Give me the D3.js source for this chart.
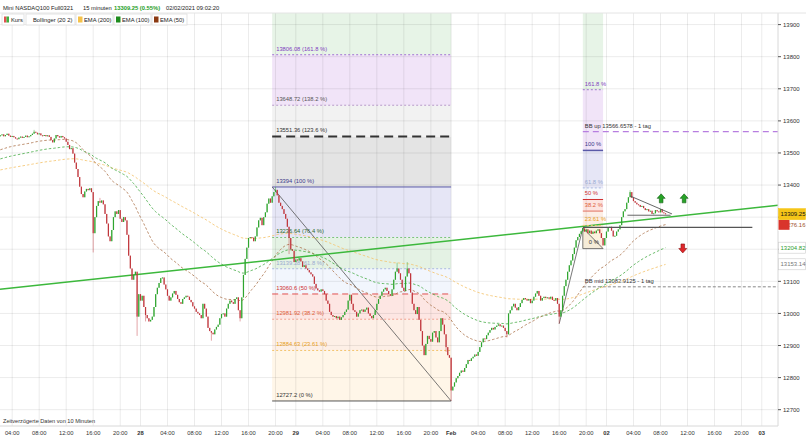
<!DOCTYPE html>
<html><head><meta charset="utf-8">
<script src="https://cdn.jsdelivr.net/npm/d3@7"></script>
<style>body{margin:0;background:#fff;} svg{display:block;font-family:"Liberation Sans",Arial,sans-serif;}</style>
</head><body><svg id="c" width="806" height="438"></svg>
<script>
// ---------- DATA ----------
const startHour = 2.25;      // first bar: Jan 27, 02:15 (trading hours, 23h per day)
const barHours = 0.25;       // 15-minute bars
const closes = [13555,13558,13552,13556,13560,13554,13550,13553,13549,13545,
13543,13548,13551,13547,13550,13554,13549,13552,13556,13560,
13566,13563,13558,13561,13555,13553,13556,13552,13555,13550,
13540,13533,13545,13556,13552,13548,13553,13549,13545,13535,
13525,13512,13515,13498,13470,13450,13425,13395,13372,13362,
13380,13388,13384,13390,13378,13250,13300,13335,13350,13345,
13352,13340,13310,13280,13240,13225,13260,13300,13318,13310,
13322,13295,13285,13300,13290,13245,13180,13140,13105,13120,
13130,12990,13060,13040,13055,13020,12995,12985,12975,12980,
12990,13020,13060,13080,13095,13110,13112,13090,13075,13055,
13040,13050,13062,13070,13058,13045,13035,13030,13045,13050,
13055,13052,13042,13035,13022,13015,13005,13000,12995,12985,
13030,13015,12990,12955,12945,12940,12935,12950,12958,12965,
12985,12998,13000,12990,13015,13030,13040,13035,13030,13045,
13050,13010,12985,13050,13120,13170,13205,13235,13238,13236,
13225,13240,13268,13290,13298,13275,13300,13315,13342,13358,
13345,13365,13378,13385,13368,13345,13335,13325,13310,13295,
13270,13235,13200,13195,13160,13168,13165,13172,13162,13145,
13150,13140,13135,13128,13122,13115,13092,13078,13072,13068,
13075,13070,13060,13040,13030,13005,12995,12990,12992,12985,
12990,12980,12988,12995,13005,13012,13040,13058,13030,13010,
13005,12990,13000,13010,13012,13005,13012,13018,13000,12992,
12985,12995,13010,13030,13045,13055,13068,13075,13080,13070,
13060,13055,13075,13105,13130,13140,13125,13105,13080,13070,
13115,13140,13125,13065,13030,13010,12998,13020,12980,12945,
12900,12870,12905,12930,12920,12912,12940,12945,12925,12910,
12945,12985,12965,12935,12895,12870,12862,12760,12772,12785,
12798,12805,12815,12822,12818,12830,12842,12855,12852,12860,
12865,12872,12868,12880,12895,12910,12922,12920,12932,12940,
12948,12955,12950,12958,12962,12966,12960,12962,12955,12945,
12935,13000,13010,13022,13030,13018,13010,13020,13032,13042,
13048,13044,13040,13045,13032,13040,13052,13062,13070,13055,
13040,13048,13052,13048,13050,13046,13052,13042,13040,13048,
13030,12990,13010,13055,13085,13105,13130,13150,13165,13185,
13205,13228,13238,13248,13256,13265,13255,13262,13250,13258,
13248,13255,13250,13258,13262,13250,13235,13212,13235,13255,
13268,13270,13258,13240,13242,13255,13262,13275,13300,13318,
13325,13345,13362,13378,13360,13350,13345,13340,13338,13332,
13335,13328,13322,13325,13318,13320,13310,13312,13322,13318,
13315,13325,13315,13312,13309.25];
const firstOpen = 13552;
const wickLows  = [[55,13190],[81,12930],[86,12975],[125,12915],[142,12975],[171,13185],[267,12727.2],[331,12968],[264,12880],[300,12925]];
const wickHighs = [[163,13394],[373,13384],[235,13158],[241,13160],[20,13572],[59,13360]];
const dayLabels = ["27","28","29","Feb","02","03"];
const hourTicks = [0,4,8,12,16,20];
const yTicks = [12700,12800,12900,13000,13100,13200,13300,13400,13500,13600,13700,13800,13900];
const ema200Seed = 13446, ema100Seed = 13480, ema50Seed = 13508;
// Fibonacci retracement (large): from the high to the low
const fibHigh = 13394, fibLow = 12727.2, fibStartBar = 161, fibEndBar = 267;
const fibRatios = [0, 0.2361, 0.382, 0.5, 0.618, 0.764, 1, 1.236, 1.382, 1.618];
// small Fibonacci on the right
const fib2High = 13508, fib2Low = 13202, fib2StartBar = 345, fib2EndBar = 357;
const fib2Ratios = [0, 0.2361, 0.382, 0.5, 0.618, 1, 1.618];
// trendline (time in trading hours, price)
const trendStart = [2.2, 13075], trendEnd = [117.4, 13337];
const bbUp = 13566.6578, bbMid = 13082.9125, bbStartBar = 345;
const hLevel = 13268, hLevelEndHour = 113.6;
const triTop = [[95.5,13366],[101.7,13310]], triBottom = [[95.1,13306],[101.5,13306]];
const rallyLine = [[331,12968],[345,13266]];
const smallTri = [[345,13266],[357,13202],[345,13202]];
const upArrows = [[100.1,13357],[103.5,13357]], downArrows = [[103.3,13204]];
const lastPrice = 13309.25, ema50Last = 13276.16, ema100Last = 13204.82, ema200Last = 13153.14;
const header = ["Mini NASDAQ100 Full0321","15 minuten","13309.25 (0.55%)","02/02/2021 09:02:20"];
const legendItems = ["Kurs","Bollinger (20 2)","EMA (200)","EMA (100)","EMA (50)"];

// ---------- DRAW ----------
const svg = d3.select('#c');
const FS = 5.8;
const plotL=0, plotR=778, plotT=13, plotB=426;
const x = d3.scaleLinear().domain([2.2,117.4]).range([plotL,plotR]);
const y = d3.scaleLinear().domain([12700,13900]).range([409.7,24.6]);
const tOf = i => startHour + barHours*i;
const xb = i => x(tOf(i));

svg.append('rect').attr('width',806).attr('height',438).attr('fill','#fff');
svg.append('defs').append('clipPath').attr('id','clip').append('rect')
  .attr('x',plotL).attr('y',plotT).attr('width',plotR-plotL).attr('height',plotB-plotT);
const g = svg.append('g').attr('clip-path','url(#clip)');

// Fib zones (bottom -> top, last zone = above top level)
const fibZone = ['#fff6e8','#fdefe6','#fde6e3','#f2f6fd','#e4f2e4','#e6e6f6','#e4e4e4','#f2f2f2','#f1e4f8','#e7f4e7'];
const fibLine = [
 {c:'#555',d:null,w:1},{c:'#f3c36a',d:'2,2',w:1},{c:'#f0a090',d:'2,2',w:1},{c:'#e05050',d:'6,4',w:1},
 {c:'#aab8e0',d:'2,2',w:1},{c:'#7cc47c',d:'2,2',w:1},{c:'#5a5aa8',d:null,w:1},{c:'#333',d:'9,5',w:2},
 {c:'#b89ac8',d:'2,2',w:1},{c:'#a070d0',d:'2,2',w:1}];
const fibText = ['#333','#e8a020','#e0603a','#d03030','#9aaad0','#2a6a2a','#3a3a8a','#333','#555','#8040c0'];
const fibVal = r => fibLow + r*(fibHigh-fibLow);
const fx0 = xb(fibStartBar), fx1 = xb(fibEndBar);
fibRatios.forEach((r,k)=>{
  const top = k<fibRatios.length-1 ? y(fibVal(fibRatios[k+1])) : plotT;
  g.append('rect').attr('x',fx0).attr('width',fx1-fx0).attr('y',top).attr('height',y(fibVal(r))-top).attr('fill',fibZone[k]);
});
// small fib zones
const fib2Zone = ['#fdf1df','#fdeee5','#fde4e0','#f6f8fd','#e6e6f6','#f1e4f8','#e7f4e7'];
const fib2Val = r => fib2Low + r*(fib2High-fib2Low);
const gx0 = xb(fib2StartBar), gx1 = xb(fib2EndBar);
fib2Ratios.forEach((r,k)=>{
  const top = k<fib2Ratios.length-1 ? y(fib2Val(fib2Ratios[k+1])) : plotT;
  g.append('rect').attr('x',gx0).attr('width',gx1-gx0).attr('y',top).attr('height',y(fib2Val(r))-top).attr('fill',fib2Zone[k]);
});

// grid
const xTicks=[];
dayLabels.forEach((d,di)=>hourTicks.forEach(h=>{const t=di*23+h; if(t>=2.2&&t<=117.4) xTicks.push({t,lab:h===0?d:(String(h).padStart(2,'0')+':00'),day:h===0});}));
g.selectAll('.vg').data(xTicks).enter().append('line').attr('x1',d=>x(d.t)).attr('x2',d=>x(d.t)).attr('y1',plotT).attr('y2',plotB).attr('stroke','rgba(0,0,0,0.08)');
g.selectAll('.hg').data(yTicks).enter().append('line').attr('x1',plotL).attr('x2',plotR).attr('y1',d=>y(d)).attr('y2',d=>y(d)).attr('stroke','rgba(0,0,0,0.08)');

// fib lines + labels
fibRatios.forEach((r,k)=>{
  const yy=y(fibVal(r)), s=fibLine[k];
  g.append('line').attr('x1',fx0).attr('x2',fx1).attr('y1',yy).attr('y2',yy).attr('stroke',s.c).attr('stroke-width',s.w).attr('stroke-dasharray',s.d);
  g.append('text').attr('x',fx0+4).attr('y',yy-4).attr('font-size',FS).attr('fill',fibText[k])
   .text(`${+fibVal(r).toFixed(2)} (${+(r*100).toFixed(2)} %)`);
});
const fib2Line = [{c:'#444',d:null,w:1},{c:'#f3c36a',d:'2,2',w:1},{c:'#e07060',d:null,w:1},{c:'#d03030',d:null,w:1},{c:'#aab8e0',d:'2,2',w:1},{c:'#5a5aa8',d:null,w:1.5},{c:'#a070d0',d:'2,2',w:1}];
const fib2Text = ['#333','#e8a020','#e0603a','#d03030','#9aaad0','#3a3a8a','#8040c0'];

// BB daily lines
g.append('line').attr('x1',xb(bbStartBar)).attr('x2',plotR).attr('y1',y(bbUp)).attr('y2',y(bbUp)).attr('stroke','#b77ee0').attr('stroke-width',1.2).attr('stroke-dasharray','6,4');
g.append('text').attr('x',xb(bbStartBar)+2).attr('y',y(bbUp)-4).attr('font-size',FS).attr('fill','#333').text(`BB up ${bbUp} - 1 tag`);
g.append('line').attr('x1',xb(bbStartBar)).attr('x2',plotR).attr('y1',y(bbMid)).attr('y2',y(bbMid)).attr('stroke','#888').attr('stroke-width',1).attr('stroke-dasharray','3,2');
g.append('text').attr('x',xb(bbStartBar)+2).attr('y',y(bbMid)-4).attr('font-size',FS).attr('fill','#333').text(`BB mid ${bbMid} - 1 tag`);

// diagonal fib line
g.append('line').attr('x1',fx0).attr('y1',y(fibHigh)).attr('x2',fx1).attr('y2',y(fibLow)).attr('stroke','#555').attr('stroke-width',0.8);

// EMAs
function ema(seed,n){const a=2/(n+1);let e=seed;return closes.map(c=>(e=a*c+(1-a)*e));}
const line = d3.line().x((d,i)=>xb(i)).y(d=>y(d));
[[ema(ema200Seed,200),'#f5c46e'],[ema(ema100Seed,100),'#4cae4c'],[ema(ema50Seed,50),'#b07a55']].forEach(([arr,c])=>{
  g.append('path').attr('d',line(arr)).attr('fill','none').attr('stroke',c).attr('stroke-width',1).attr('stroke-dasharray','2.5,2').attr('opacity',0.85);
});

// green long trendline
g.append('line').attr('x1',x(trendStart[0])).attr('y1',y(trendStart[1])).attr('x2',x(trendEnd[0])).attr('y2',y(trendEnd[1])).attr('stroke','#3cb83c').attr('stroke-width',1.5);

// small triangle and rally line
g.append('path').attr('d',d3.line().x(d=>xb(d[0])).y(d=>y(d[1]))(smallTri)+'Z').attr('fill','#f6ecd8').attr('stroke','#555').attr('stroke-width',0.8);
g.append('line').attr('x1',xb(rallyLine[0][0])).attr('y1',y(rallyLine[0][1])).attr('x2',xb(rallyLine[1][0])).attr('y2',y(rallyLine[1][1])).attr('stroke','#555').attr('stroke-width',0.8);

// small fib lines + labels
fib2Ratios.forEach((r,k)=>{
  const yy=y(fib2Val(r)), s=fib2Line[k];
  if(k>0) g.append('line').attr('x1',gx0).attr('x2',gx1).attr('y1',yy).attr('y2',yy).attr('stroke',s.c).attr('stroke-width',s.w).attr('stroke-dasharray',s.d);
  g.append('text').attr('x',gx0+(k===0?6:2)).attr('y',yy-(k===0?5:4)).attr('font-size',FS).attr('fill',fib2Text[k]).text(`${+(r*100).toFixed(2)} %`);
});

// candles
const lowMap=new Map(wickLows), highMap=new Map(wickHighs);
const bars = closes.map((c,i)=>{const o=i?closes[i-1]:firstOpen;return {i,o,c,h:highMap.get(i)??Math.max(o,c),l:lowMap.get(i)??Math.min(o,c)};});
const cg=g.append('g');
cg.selectAll('.w').data(bars).enter().append('line').attr('x1',d=>xb(d.i)).attr('x2',d=>xb(d.i)).attr('y1',d=>y(d.h)).attr('y2',d=>y(d.l))
  .attr('stroke',d=>d.c>=d.o?'#2fa52f':'#c0363c').attr('stroke-opacity',0.45).attr('stroke-width',1);
cg.selectAll('.b').data(bars).enter().append('rect').attr('x',d=>xb(d.i)-0.6).attr('width',1.2)
  .attr('y',d=>y(Math.max(d.o,d.c))).attr('height',d=>Math.max(1,Math.abs(y(d.o)-y(d.c))))
  .attr('fill',d=>d.c>=d.o?'#2fa52f':'#c0363c');

// horizontal level & triangle pattern
g.append('line').attr('x1',xb(bbStartBar)).attr('x2',x(hLevelEndHour)).attr('y1',y(hLevel)).attr('y2',y(hLevel)).attr('stroke','#555').attr('stroke-width',1.2);
[triTop,triBottom].forEach(l=>g.append('line').attr('x1',x(l[0][0])).attr('y1',y(l[0][1])).attr('x2',x(l[1][0])).attr('y2',y(l[1][1])).attr('stroke','#555').attr('stroke-width',0.9));

// arrows
function arrow(cx,cy,up,fill,stroke){
  const s=up?1:-1;
  const pts=[[0,-5],[4,-0.5],[1.8,-0.5],[1.8,4],[-1.8,4],[-1.8,-0.5],[-4,-0.5]].map(p=>[cx+p[0],cy+s*p[1]]);
  g.append('path').attr('d','M'+pts.join('L')+'Z').attr('fill',fill).attr('stroke',stroke).attr('stroke-width',0.6);
}
upArrows.forEach(a=>arrow(x(a[0]),y(a[1]),true,'#27a327','#145c14'));
downArrows.forEach(a=>arrow(x(a[0]),y(a[1]),false,'#e0262a','#8a1010'));

// axes
svg.append('line').attr('x1',plotL).attr('x2',plotR).attr('y1',plotB).attr('y2',plotB).attr('stroke','#d8d8d8');
svg.append('line').attr('x1',plotR).attr('x2',plotR).attr('y1',plotT).attr('y2',plotB).attr('stroke','#d8d8d8');
svg.append('line').attr('x1',0).attr('x2',806).attr('y1',plotT).attr('y2',plotT).attr('stroke','#e4e4e4');
const badgeVals=[lastPrice,ema50Last,ema100Last,ema200Last];
const ya = svg.append('g');
yTicks.forEach(v=>{
  ya.append('line').attr('x1',plotR).attr('x2',plotR+3).attr('y1',y(v)).attr('y2',y(v)).attr('stroke','#555');
  if(badgeVals.some(b=>Math.abs(y(b)-y(v))<9)) return; // label hidden behind a value badge
  ya.append('text').attr('x',plotR+5).attr('y',y(v)+2.2).attr('font-size',6).attr('fill','#333').text(v);
});
svg.selectAll('.xl').data(xTicks).enter().append('text').attr('x',d=>x(d.t)).attr('y',434.5).attr('text-anchor','middle')
  .attr('font-size',FS).attr('font-weight',d=>d.day?'bold':'normal').attr('fill','#333').text(d=>d.lab);
svg.append('text').attr('x',3).attr('y',423).attr('font-size',5.6).attr('fill','#333').text('Zeitverzögerte Daten von 10 Minuten');

// badges
function badge(v,txt,fill,col,stroke){
  const yy=y(v);
  svg.append('rect').attr('x',plotR+0.5).attr('y',yy-5.5).attr('width',27).attr('height',11).attr('fill',fill).attr('stroke',stroke).attr('stroke-width',0.6);
  svg.append('text').attr('x',plotR+2.5).attr('y',yy+2.2).attr('font-size',6).attr('fill',col).text(txt);
}
badge(ema200Last,ema200Last.toFixed(2),'#fff','#777','#ccc');
badge(ema100Last,ema100Last.toFixed(2),'#fff','#2e9e2e','#ccc');
badge(ema50Last,ema50Last.toFixed(2),'#fff','#a0522d','#fff');
svg.append('rect').attr('x',plotR+0.5).attr('y',y(ema50Last)-5).attr('width',11).attr('height',10).attr('fill','#d9342b');
badge(lastPrice,lastPrice.toFixed(2),'#f5c518','#111','#f5c518');

// header
const hx=[3,83,114,166];
header.forEach((t,k)=>svg.append('text').attr('x',hx[k]).attr('y',9.5).attr('font-size',FS)
  .attr('font-weight',k===2?'bold':'normal').attr('fill',k===2?'#1e9e1e':'#222').text(t));

// legend
const lx=[2,26,76,114,152], lw=[22,49,37,37,35];
const sw=[null,null,'#f5c24a','#1e8c1e','#8b3a12'];
legendItems.forEach((t,k)=>{
  svg.append('rect').attr('x',lx[k]).attr('y',14).attr('width',lw[k]).attr('height',11).attr('fill','#fff').attr('stroke','#ddd').attr('stroke-width',0.8);
  let tx;
  if(k===0){svg.append('rect').attr('x',lx[k]+2).attr('y',16.5).attr('width',2.5).attr('height',6).attr('fill','#e05050');
            svg.append('rect').attr('x',lx[k]+4.5).attr('y',16.5).attr('width',2.5).attr('height',6).attr('fill','#40b040'); tx=lx[k]+9;}
  else if(sw[k]){svg.append('rect').attr('x',lx[k]+2).attr('y',16.5).attr('width',4.5).attr('height',6).attr('fill',sw[k]); tx=lx[k]+8;}
  else tx=lx[k]+7;
  svg.append('text').attr('x',tx).attr('y',21.8).attr('font-size',FS).attr('fill','#222').text(t);
});
</script></body></html>
